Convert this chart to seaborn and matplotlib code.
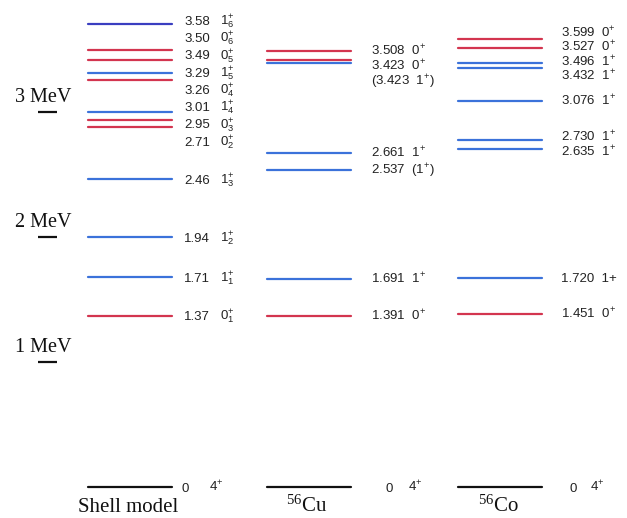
import matplotlib
matplotlib.use("Agg")
import pandas as pd
import matplotlib.pyplot as plt
import seaborn as sns

# ------------------------------
# Level data (MeV, as drawn, top to bottom)
# ------------------------------
shell_E = [3.706, 3.494, 3.414, 3.314, 3.254, 2.998, 2.938, 2.878, 2.464, 2.00, 1.68, 1.37, 0.0]
shell_kind = ["1+*", "0+", "0+", "1+", "0+", "1+", "0+", "0+", "1+", "1+", "1+", "0+", "gs"]
shell_val = ["3.58", "3.50", "3.49", "3.29", "3.26", "3.01", "2.95", "2.71", "2.46", "1.94", "1.71", "1.37"]
shell_jp = [r"$1^{+}_{6}$", r"$0^{+}_{6}$", r"$0^{+}_{5}$", r"$1^{+}_{5}$", r"$0^{+}_{4}$", r"$1^{+}_{4}$",
            r"$0^{+}_{3}$", r"$0^{+}_{2}$", r"$1^{+}_{3}$", r"$1^{+}_{2}$", r"$1^{+}_{1}$", r"$0^{+}_{1}$"]

cu_E = [3.49, 3.418, 3.394, 2.67, 2.538, 1.664, 1.366, 0.0]
cu_kind = ["0+", "0+", "1+", "1+", "1+", "1+", "0+", "gs"]
cu_label = [r"3.508  $0^{+}$", r"3.423  $0^{+}$", r"(3.423  $1^{+}$)", r"2.661  $1^{+}$",
            r"2.537  ($1^{+}$)", r"1.691  $1^{+}$", r"1.391  $0^{+}$"]

co_E = [3.586, 3.512, 3.394, 3.354, 3.088, 2.778, 2.704, 1.672, 1.384, 0.0]
co_kind = ["0+", "0+", "1+", "1+", "1+", "1+", "1+", "1+", "0+", "gs"]
co_label = [r"3.599  $0^{+}$", r"3.527  $0^{+}$", r"3.496  $1^{+}$", r"3.432  $1^{+}$", r"3.076  $1^{+}$",
            r"2.730  $1^{+}$", r"2.635  $1^{+}$", "1.720  1+", r"1.451  $0^{+}$"]

columns = ["Shell model", r"$^{56}$Cu", r"$^{56}$Co"]
ground_val = "0"
ground_jp = r"$4^{+}$"
mev_marks = [1, 2, 3]

palette = {"0+": "#d3354f", "1+": "#3b72da", "1+*": "#3a3ec0", "gs": "#111111"}

# ------------------------------
# Layout (pixels on a 627 px wide canvas)
# ------------------------------
col_x = [130, 309, 500]
half = 42
label_dx = [54, 62, 61]
gaps = [0.138, 0.12, 0.115]
modes = ["centre", "down", "centre"]
ground_dx = [(51, 79), (76, 99), (69, 90)]


def spread(vals, gap, mode="centre"):
    # keep sorted (descending) label positions at least `gap` apart
    if mode == "down":
        out = []
        for v in vals:
            out.append(v if not out else min(v, out[-1] - gap))
        return out
    blocks = [[v] for v in vals]
    merged = True
    while merged:
        merged = False
        for i in range(len(blocks) - 1):
            a, b = blocks[i], blocks[i + 1]
            ca, cb = sum(a) / len(a), sum(b) / len(b)
            bottom_a = ca - (len(a) - 1) / 2 * gap
            top_b = cb + (len(b) - 1) / 2 * gap
            if bottom_a - top_b < gap:
                blocks[i] = a + b
                del blocks[i + 1]
                merged = True
                break
    out = []
    for b in blocks:
        c = sum(b) / len(b)
        out += [c + ((len(b) - 1) / 2 - k) * gap for k in range(len(b))]
    return out


# long-form table: two end points per level
rows = []
for ci, (E, kinds) in enumerate([(shell_E, shell_kind), (cu_E, cu_kind), (co_E, co_kind)]):
    for li, (e, k) in enumerate(zip(E, kinds)):
        for x in (col_x[ci] - half, col_x[ci] + half):
            rows.append({"x": x, "E": e, "kind": k, "level": f"{ci}-{li}"})
df = pd.DataFrame(rows)

sns.set_theme(style="white")
plt.rcParams["font.family"] = ["Liberation Sans", "DejaVu Sans"]
plt.rcParams["mathtext.fontset"] = "custom"
plt.rcParams["mathtext.rm"] = "Liberation Sans"
plt.rcParams["mathtext.it"] = "Liberation Sans:italic"
plt.rcParams["mathtext.default"] = "regular"

fig = plt.figure(figsize=(6.27, 5.18), dpi=100)
ax = fig.add_axes([0, 0, 1, 1])

sns.lineplot(data=df, x="x", y="E", hue="kind", units="level", estimator=None,
             palette=palette, linewidth=1.6, legend=False, ax=ax)

ax.set_xlim(0, 627)
ax.set_ylim(-0.248, 3.896)
ax.axis("off")

fs = 9.5
base = 0.036
tc = "#222222"

# shell model labels (value and J^pi in separate columns)
ys = spread(shell_E[:-1], gaps[0], modes[0])
for y, v, j in zip(ys, shell_val, shell_jp):
    ax.text(col_x[0] + label_dx[0], y - base, v, fontsize=fs, va="baseline", color=tc)
    ax.text(col_x[0] + label_dx[0] + 36, y - base, j, fontsize=fs, va="baseline", color=tc)

for ci, (E, labels) in enumerate([(cu_E, cu_label), (co_E, co_label)], start=1):
    ys = spread(E[:-1], gaps[ci], modes[ci])
    for y, lab in zip(ys, labels):
        ax.text(col_x[ci] + label_dx[ci], y - base, lab, fontsize=fs, va="baseline", color=tc)

# ground states and column names
for ci in range(3):
    ax.text(col_x[ci] + ground_dx[ci][0], -base, ground_val, fontsize=fs, va="baseline", color=tc)
    ax.text(col_x[ci] + ground_dx[ci][1], -base, ground_jp, fontsize=fs, va="baseline", color=tc)
    ax.text(col_x[ci] - 2, -0.2, columns[ci], fontsize=15, ha="center", va="baseline",
            family="Liberation Serif", math_fontfamily="stix", color="#111111")

# MeV scale marks
for m in mev_marks:
    ax.hlines(m, 38, 57, color="#111111", linewidth=1.6)
    ax.text(15, m + 0.08, f"{m} MeV", fontsize=14.5, va="baseline",
            family="Liberation Serif", color="#111111")

fig.savefig("out.png", dpi=100)
